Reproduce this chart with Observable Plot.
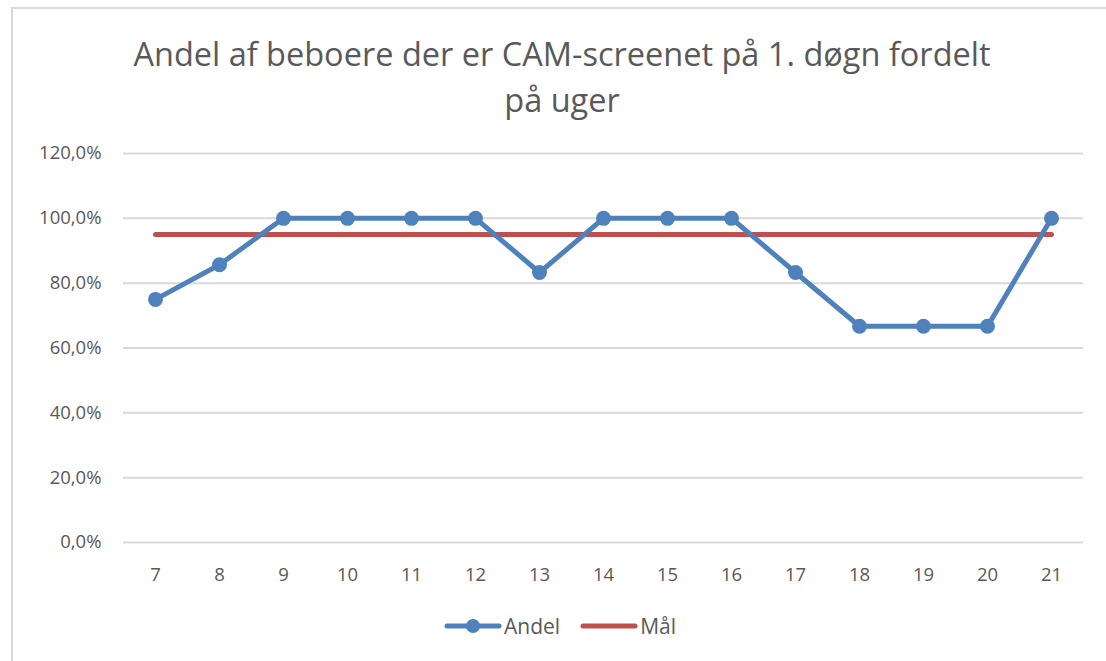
<!DOCTYPE html>
<html>
<head>
<meta charset="utf-8">
<script src="https://cdn.jsdelivr.net/npm/d3@7"></script>
<script src="https://cdn.jsdelivr.net/npm/@observablehq/plot@0.6"></script>
<style>
  html, body { margin: 0; padding: 0; background: #fff; }
  #wrap { position: relative; width: 1106px; height: 661px; overflow: hidden; font-family: "Open Sans", sans-serif; color: #595959; }
  #frame { position: absolute; left: 11px; top: 7px; width: 1200px; height: 800px; border-left: 2px solid #d9d9d9; border-top: 2px solid #d9d9d9; }
  #title { position: absolute; left: 0; width: 1124px; top: 31px; text-align: center; font-size: 32.5px; line-height: 46px; color: #595959; }
  #chart { position: absolute; left: 0; top: 0; }
  #legend { position: absolute; top: 612px; left: 0; width: 1120px; display: flex; justify-content: center; align-items: center; font-size: 21px; color: #595959; }
  #legend .item { display: flex; align-items: center; margin: 0 10px; }
  #legend svg { margin-right: 2px; }
</style>
</head>
<body>
<div id="wrap">
  <div id="frame"></div>
  <div id="title">Andel af beboere der er CAM-screenet på 1. døgn fordelt<br>på uger</div>
  <div id="chart"></div>
  <div id="legend">
    <div class="item"><svg width="58" height="16"><line x1="3" y1="8" x2="55" y2="8" stroke="#4f81bd" stroke-width="5" stroke-linecap="round"/><circle cx="29" cy="8" r="7" fill="#4f81bd"/></svg>Andel</div>
    <div class="item"><svg width="58" height="16"><line x1="3" y1="8" x2="55" y2="8" stroke="#c0504d" stroke-width="5" stroke-linecap="round"/></svg>Mål</div>
  </div>
</div>
<script>
const weeks = [7, 8, 9, 10, 11, 12, 13, 14, 15, 16, 17, 18, 19, 20, 21];
const andel = [75.0, 85.7, 100, 100, 100, 100, 83.3, 100, 100, 100, 83.3, 66.7, 66.7, 66.7, 100];
const maal = [95, 95, 95, 95, 95, 95, 95, 95, 95, 95, 95, 95, 95, 95, 95];
const yTicks = [0, 20, 40, 60, 80, 100, 120];

const andelData = weeks.map((w, i) => ({week: String(w), value: andel[i]}));
const maalData = weeks.map((w, i) => ({week: String(w), value: maal[i]}));
const fmt = d => d.toFixed(1).replace(".", ",") + "%";

const chart = Plot.plot({
  width: 1106,
  height: 661,
  marginLeft: 123,
  marginRight: 23,
  marginTop: 153,
  marginBottom: 119,
  style: {fontFamily: "'Open Sans', sans-serif", color: "#595959", background: "transparent"},
  x: {type: "point", domain: weeks.map(String), padding: 0.5, label: null},
  y: {domain: [0, 120], label: null},
  marks: [
    Plot.gridY(yTicks, {stroke: "#d9d9d9", strokeOpacity: 1, strokeWidth: 2}),
    Plot.axisX({tickSize: 0, tickPadding: 25, label: null, fill: "#595959", fontSize: 18.5}),
    Plot.axisY({ticks: yTicks, tickFormat: fmt, tickSize: 0, tickPadding: 22, label: null, fill: "#595959", fontSize: 18.5}),
    Plot.line(maalData, {x: "week", y: "value", stroke: "#c0504d", strokeWidth: 5, strokeLinecap: "round"}),
    Plot.line(andelData, {x: "week", y: "value", stroke: "#4f81bd", strokeWidth: 5, strokeLinejoin: "round"}),
    Plot.dot(andelData, {x: "week", y: "value", fill: "#4f81bd", r: 7.5})
  ]
});
document.getElementById("chart").appendChild(chart);
</script>
</body>
</html>
